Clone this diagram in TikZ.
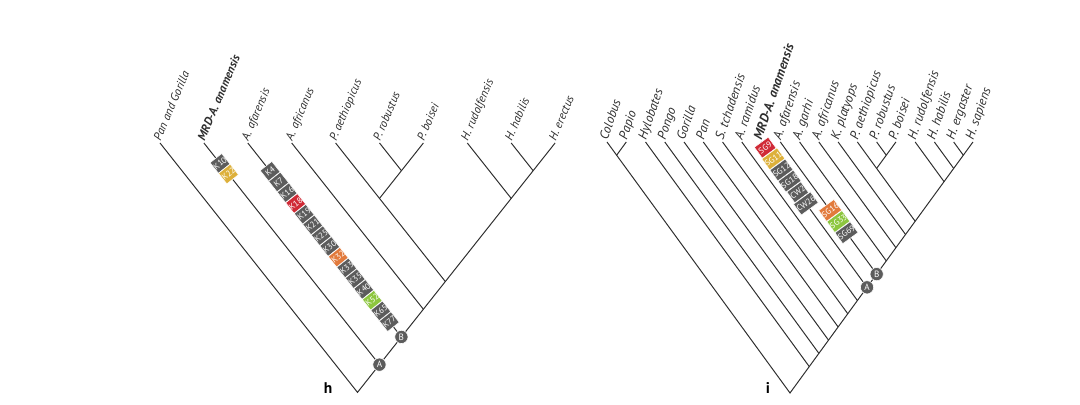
\documentclass[tikz,border=0pt]{standalone}
\usepackage{fontspec}
\setmainfont{PT Sans}
\usepackage{xcolor}
\definecolor{treeline}{HTML}{2E2E2E}
\definecolor{chargray}{HTML}{5C5C5C}
\definecolor{charred}{HTML}{D02A36}
\definecolor{chargold}{HTML}{DDB03A}
\definecolor{charorange}{HTML}{E27A3C}
\definecolor{chargreen}{HTML}{8DC63F}
\usepackage{tikz}
\usetikzlibrary{calc}
\tikzset{
  branch/.style ={draw=treeline, line width=0.7pt},
  leafh/.style  ={font=\fontsize{8.4}{9}\selectfont\itshape, text=treeline, rotate=67, anchor=base west, inner sep=1pt},
  leafi/.style  ={font=\fontsize{9.2}{10}\selectfont\itshape, text=treeline, rotate=71, anchor=base west, inner sep=1pt},
  chbox/.style  ={rectangle, fill=chargray, draw=white, line width=0.4pt, text=white, font=\fontsize{6}{6}\selectfont,
                  inner sep=0pt, minimum width=0.37cm, minimum height=0.335cm, sloped, rotate=90},
  chred/.style  ={chbox, fill=charred},
  chgold/.style ={chbox, fill=chargold},
  chorange/.style={chbox, fill=charorange},
  chgreen/.style={chbox, fill=chargreen},
  cladepin/.style={circle, fill=chargray, draw=white, line width=0.4pt, text=white, font=\fontsize{6.5}{7}\selectfont,
                  inner sep=0pt, minimum size=0.33cm},
  panellbl/.style={font=\fontsize{11}{12}\selectfont\bfseries},
}

\begin{document}
\begin{tikzpicture}[x=0.025cm, y=-0.025cm]
  \useasboundingbox (0,0) rectangle (1080,405);

  % panel h: tips and where each joins the backbone
  \foreach \i in {0,...,9} {
    \pgfmathsetmacro\xx{160+43.9*\i}
    \pgfmathsetmacro\jx{(\xx+555)/2}
    \pgfmathsetmacro\jy{143+(555-\xx)/2*1.2626}
    \coordinate (h\i) at (\xx,143);
    \coordinate (hj\i) at (\jx,\jy);
  }
  \coordinate (hp56) at ($(h5)!0.5!(h6)+(0,27.7)$);
  \coordinate (hp46) at ($(h4)!0.5!(h6)+(0,55.4)$);
  \draw[branch] (h0) -- (hj0) -- (h9);
  \foreach \i in {1,2,3,4,7,8} \draw[branch] (h\i) -- (hj\i);
  \draw[branch] (h6) -- (hp46);
  \draw[branch] (h5) -- (hp56);

  \foreach \i/\name in {0/Pan and Gorilla, 2/A. afarensis, 3/A. africanus, 4/P. aethiopicus, 5/P. robustus,
                        6/P. boisei, 7/H. rudolfensis, 8/H. habilis, 9/H. erectus}
    \node[leafh] (hl\i) at (h\i) {\name};
  \node[leafh, font=\fontsize{8.4}{9}\selectfont\itshape\bfseries] (hl1) at (h1) {MRD-A. anamensis};

  \path (h1) -- (hj1) node[chbox, pos=0.092] (hK10) {K10};
  \path (h1) -- (hj1) node[chgold, pos=0.140] (hK22) {K22};
  \foreach \lbl/\sty [count=\n from 0] in {K4/chbox, K7/chbox, K16/chbox, K18/chred, K19/chbox, K21/chbox, K25/chbox,
                                           K30/chbox, K32/chorange, K33/chbox, K35/chbox, K40/chbox, K52/chgreen,
                                           K65/chbox, K77/chbox} {
    \pgfmathsetmacro\pp{(36+13.7*\n)/247.3}
    \path (h2) -- (hj2) node[\sty, pos=\pp] (h\lbl) {\lbl};
  }
  \node[cladepin] (hA) at (hj1) {A};
  \node[cladepin] (hB) at (hj2) {B};
  \node[panellbl] (hname) at (328,388) {h};

  % panel i
  \foreach \i in {0,...,19} {
    \pgfmathsetmacro\xx{607+19.26*\i}
    \pgfmathsetmacro\jx{(\xx+973)/2}
    \pgfmathsetmacro\jy{142+(973-\xx)/2*1.3716}
    \coordinate (i\i) at (\xx,142);
    \coordinate (ij\i) at (\jx,\jy);
  }
  \coordinate (ip01) at ($(i0)!0.5!(i1)+(0,13.2)$);
  \coordinate (ip1415) at ($(i14)!0.5!(i15)+(0,13.2)$);
  \coordinate (ip1315) at ($(i13)!0.5!(i15)+(0,26.4)$);
  \draw[branch] (i0) -- (ij0) -- (i19);
  \foreach \i in {2,...,13,16,17,18} \draw[branch] (i\i) -- (ij\i);
  \draw[branch] (i1) -- (ip01);
  \draw[branch] (i15) -- (ip1315);
  \draw[branch] (i14) -- (ip1415);

  \foreach \i/\name in {0/Colobus, 1/Papio, 2/Hylobates, 3/Pongo, 4/Gorilla, 5/Pan, 6/S. tchadensis, 7/A. ramidus,
                        9/A. afarensis, 10/A. garhi, 11/A. africanus, 12/K. platyops, 13/P. aethiopicus,
                        14/P. robustus, 15/P. boisei, 16/H. rudolfensis, 17/H. habilis, 18/H. ergaster, 19/H. sapiens}
    \node[leafi] (il\i) at (i\i) {\name};
  \node[leafi, font=\fontsize{9.2}{10}\selectfont\itshape\bfseries] (il8) at (i8) {MRD-A. anamensis};

  \foreach \lbl/\sty [count=\n from 0] in {SG9/chred, SG11/chgold, SG12/chbox, SG18/chbox, CW2/chbox, CW26/chbox} {
    \pgfmathsetmacro\pp{(7+13.8*\n)/179.8}
    \path (i8) -- (ij8) node[\sty, minimum width=0.43cm, pos=\pp] (i\lbl) {\lbl};
  }
  \foreach \lbl/\sty [count=\n from 0] in {SG16/chorange, SG33/chgreen, SG69/chbox} {
    \pgfmathsetmacro\pp{(84.7+13.8*\n)/163.6}
    \path (i9) -- (ij9) node[\sty, minimum width=0.43cm, pos=\pp] (i\lbl) {\lbl};
  }
  \node[cladepin] (iA) at (ij8) {A};
  \node[cladepin] (iB) at (ij9) {B};
  \node[panellbl] (iname) at (768,388) {i};
\end{tikzpicture}
\end{document}
